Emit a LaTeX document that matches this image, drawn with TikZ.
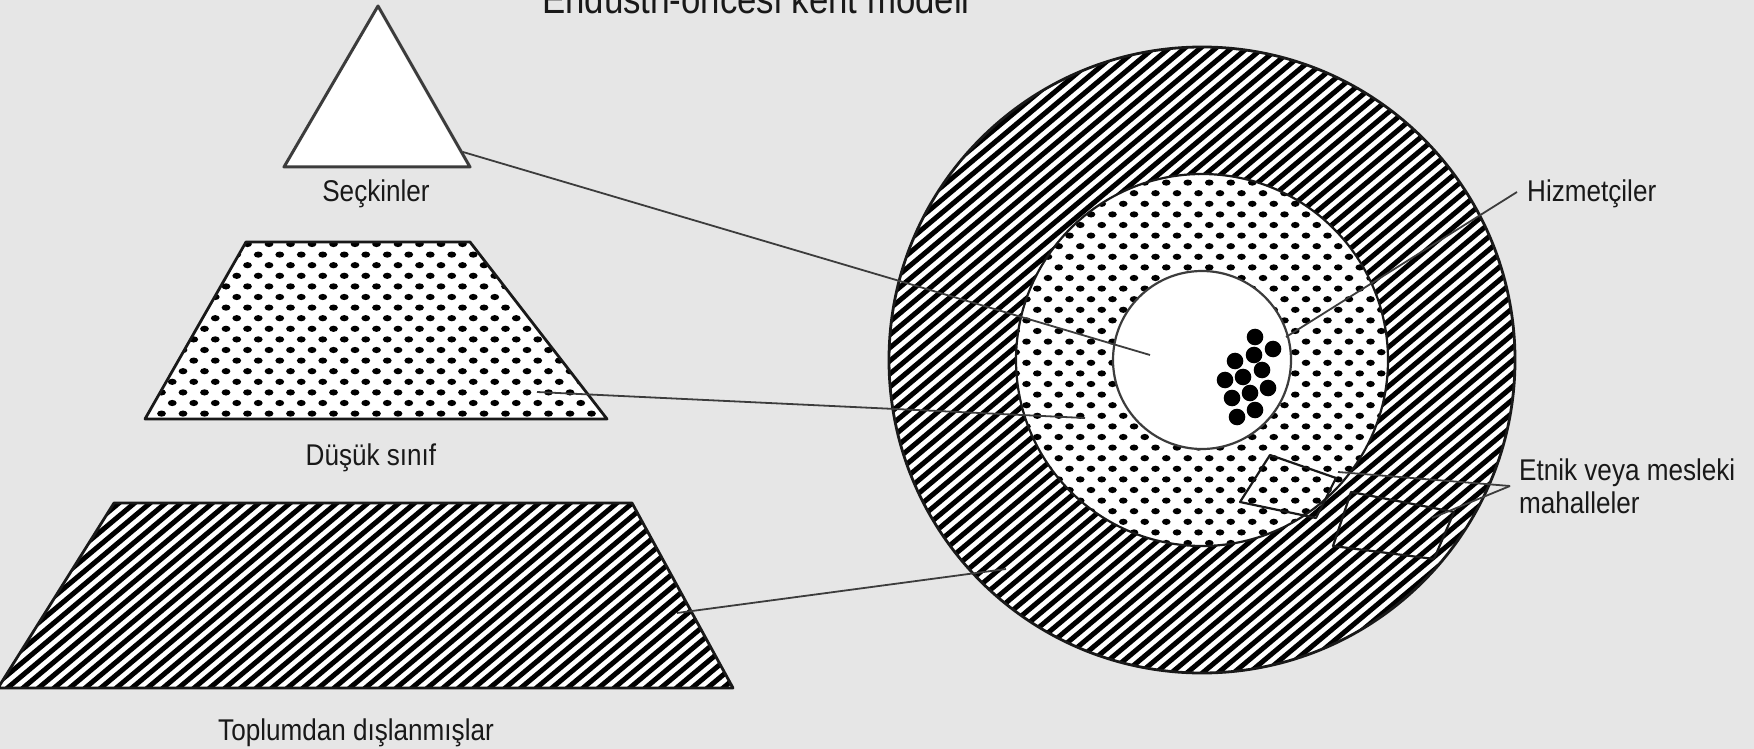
\documentclass[tikz,border=0pt]{standalone}
\usepackage{fontspec}
\setmainfont{Liberation Sans}
\usetikzlibrary{calc}
\definecolor{bg}{RGB}{230,230,230}
\definecolor{ink}{RGB}{25,25,25}
\definecolor{edge}{RGB}{60,60,60}
\begin{document}
\begin{tikzpicture}[x=1pt,y=-1pt,
  lbl/.style={font=\fontsize{30}{30}\selectfont, inner sep=0pt, xscale=0.87, text=ink},
  ttl/.style={font=\fontsize{40}{40}\selectfont, inner sep=0pt, xscale=0.87, text=ink},
  outline/.style={draw=ink, line width=2.8pt, line join=round},
  leader/.style={draw=edge, line width=1.8pt},
  hatchline/.style={draw=black, line width=5pt},
  dotfill/.style={fill=black}]
\fill[bg] (0,0) rectangle (1754,749);
\useasboundingbox (0,0) rectangle (1754,749);

% ---------- title ----------
\node[ttl, anchor=base] (title) at (756,14) {Endüstri-öncesi kent modeli};

% ---------- triangle (elite) ----------
\coordinate (tA) at (378,6);
\coordinate (tB) at (470,167);
\coordinate (tC) at (284,167);
\filldraw[fill=white, draw=edge, line width=3pt, line join=round] (tA) -- (tB) -- (tC) -- cycle;
\node[lbl, anchor=base] (secl) at (376,201) {Seçkinler};

% ---------- trapezoid 2 (lower class, dotted) ----------
\begin{scope}
  \clip (246,242) -- (470,242) -- (607,419) -- (145,419) -- cycle;
  \fill[white] (140,238) rectangle (612,424);
  \foreach \r [evaluate=\r as \yy using {244+\r*10.6},
               evaluate=\r as \off using {mod(\r,2)*10.75}] in {0,...,17}
    \foreach \c in {0,...,22}
      \fill[dotfill] (140+\c*21.5+\off,\yy) ellipse [x radius=4.4, y radius=3.1];
\end{scope}
\draw[outline] (246,242) -- (470,242) -- (607,419) -- (145,419) -- cycle;
\node[lbl, anchor=base] (dusuk) at (371,465) {Düşük sınıf};

% ---------- trapezoid 3 (outcasts, hatched) ----------
\begin{scope}
  \clip (114,503) -- (632,503) -- (733,688) -- (-2,688) -- cycle;
  \fill[white] (-5,500) rectangle (740,692);
  \begin{scope}[shift={(366,596)}, rotate=40]
    \foreach \k in {-45,...,45}
      \draw[hatchline] (-600,\k*10) -- (600,\k*10);
  \end{scope}
\end{scope}
\draw[outline] (114,503) -- (632,503) -- (733,688) -- (-2,688) -- cycle;
\node[lbl, anchor=base] (toplum) at (356,740) {Toplumdan dışlanmışlar};

% ---------- concentric city model ----------
\coordinate (cc) at (1202,360);
% outer ring (hatched)
\begin{scope}
  \clip (cc) circle [radius=313];
  \fill[white] (cc) circle [radius=315];
  \begin{scope}[shift={(cc)}, rotate=40]
    \foreach \k in {-33,...,33}
      \draw[hatchline] (-340,\k*10) -- (340,\k*10);
  \end{scope}
\end{scope}
% middle ring (dotted)
\begin{scope}
  \clip (cc) circle [radius=186];
  \fill[white] (cc) circle [radius=188];
  \foreach \r [evaluate=\r as \yy using {172+\r*10.6},
               evaluate=\r as \off using {mod(\r,2)*10.75}] in {0,...,36}
    \foreach \c in {0,...,18}
      \fill[dotfill] (1005+\c*21.5+\off,\yy) ellipse [x radius=4.3, y radius=3.1];
\end{scope}
% inner core (white)
\fill[white] (cc) circle [radius=89];
\draw[draw=ink, line width=2.8pt] (cc) circle [radius=313];
\draw[draw=ink, line width=2.2pt] (cc) circle [radius=186];
\draw[draw=edge, line width=2.2pt] (cc) circle [radius=89];

% cluster of dots in the core
\foreach \p in {(1255,337),(1273,349),(1254,355),(1235,361),(1262,370),(1243,377),
                (1225,380),(1268,388),(1250,393),(1232,398),(1255,410),(1237,417)}
  \fill[black] \p circle [radius=8.3];

% neighbourhood outlines
\coordinate (r1a) at (1270,455);
\coordinate (r1b) at (1336,478);
\coordinate (r1c) at (1316,518);
\coordinate (r1d) at (1240,502);
\coordinate (r2a) at (1351,492);
\coordinate (r2b) at (1454,512);
\coordinate (r2c) at (1434,559);
\coordinate (r2d) at (1333,546);
\draw[draw=ink, line width=2.2pt, line join=round] (r1a) -- (r1b) -- (r1c) -- (r1d) -- cycle;
\draw[draw=ink, line width=2.2pt, line join=round] (r2a) -- (r2b) -- (r2c) -- (r2d) -- cycle;

% ---------- leader lines ----------
\coordinate (e1) at (463,152);
\coordinate (f1) at (1150,355);
\coordinate (e2) at (537,392);
\coordinate (f2) at (1085,418);
\coordinate (e3) at (677,613);
\coordinate (f3) at (1006,569);
\draw[leader] (e1) -- (f1);
\draw[leader] (e2) -- (f2);
\draw[leader] (e3) -- (f3);

\node[lbl, anchor=base west] (hiz) at (1527,201) {Hizmetçiler};
\coordinate (h0) at (1517,192);
\coordinate (h1) at (1286,337);
\draw[leader] (h0) -- (h1);

\node[lbl, anchor=base west] (etnik) at (1519,480) {Etnik veya mesleki};
\node[lbl, anchor=base west] (mah) at (1519,513) {mahalleler};
\coordinate (m0) at (1510,486);
\coordinate (m1) at (1338,472);
\coordinate (m2) at (1432,518);
\draw[leader] (m0) -- (m1);
\draw[leader] (m0) -- (m2);
\end{tikzpicture}
\end{document}
